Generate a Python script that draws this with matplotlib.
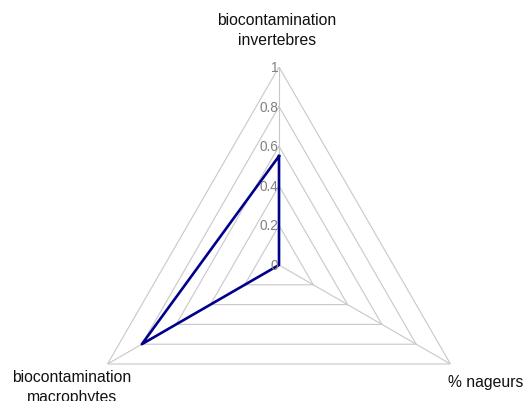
import numpy as np
import matplotlib
matplotlib.use("Agg")
import matplotlib.pyplot as plt

categories = ["biocontamination\ninvertebres", "% nageurs", "biocontamination\nmacrophytes"]
values = [0.55, 0.0, 0.80]
levels = [0.2, 0.4, 0.6, 0.8, 1.0]
tick_values = [0, 0.2, 0.4, 0.6, 0.8, 1]
tick_labels = ["0", "0.2", "0.4", "0.6", "0.8", "1"]

plt.rcParams['font.family'] = ['Liberation Sans', 'DejaVu Sans']

W, H = 527, 402
fig = plt.figure(figsize=(W/100, H/100), dpi=100)
cx, cy, R = 279, 266, 198
ax = fig.add_axes([(cx-R)/W, (H-cy-R)/H, 2*R/W, 2*R/H], projection='polar')
ax.set_theta_zero_location('N')
ax.set_theta_direction(-1)
ax.set_ylim(0, 1)
ax.set_axis_off()

n = len(categories)
angles = np.arange(n) * 2*np.pi/n
closed = np.append(angles, angles[0])

grid_c = '#c8c8c8'
for lv in levels:
    ax.plot(closed, [lv]*(n+1), color=grid_c, lw=0.8, zorder=1)
for a in angles:
    ax.plot([a, a], [0, 1], color=grid_c, lw=0.8, zorder=1)

ax.plot(closed, values + [values[0]], color='#00008B', lw=1.9, zorder=3, clip_on=False)

# tick labels along top axis
for v, lab in zip(tick_values, tick_labels):
    fig.text((cx-1)/W, (H-(cy - v*R))/H, lab, ha='right', va='center',
             fontsize=9.8, color='#808080')

fig.text(277/W, (H-30.5)/H, categories[0], ha='center', va='center', fontsize=11.3,
         color='#111111', linespacing=1.38)
fig.text(486/W, (H-383)/H, categories[1], ha='center', va='center', fontsize=11.3,
         color='#111111')
fig.text(72/W, (H-387.5)/H, categories[2], ha='center', va='center', fontsize=11.3,
         color='#111111', linespacing=1.38)

fig.savefig("out.png", dpi=100)
